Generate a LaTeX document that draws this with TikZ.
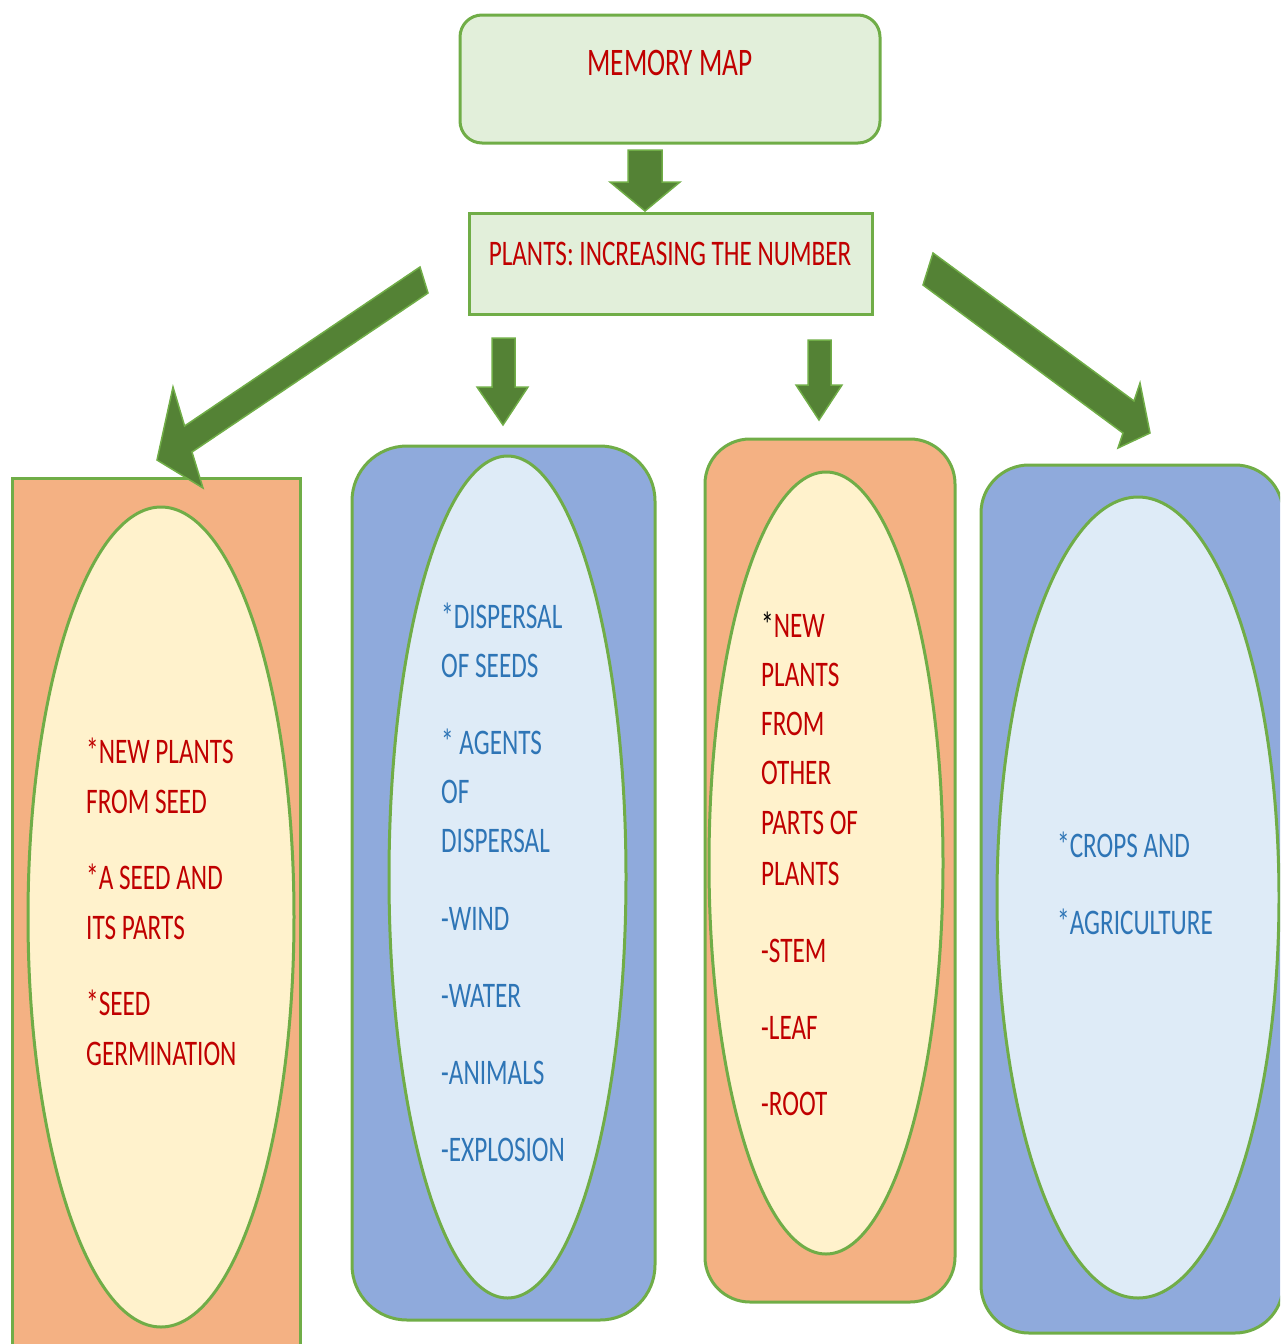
\documentclass[tikz,border=0pt]{standalone}
\usepackage{fontspec}
\setmainfont[FakeStretch=0.7]{Carlito}
\usetikzlibrary{shapes.geometric}
\definecolor{bordergreen}{HTML}{70AD47}
\definecolor{arrowgreen}{HTML}{548235}
\definecolor{lightgreen}{HTML}{E2EFDA}
\definecolor{orangefill}{HTML}{F4B183}
\definecolor{creamfill}{HTML}{FFF2CC}
\definecolor{bluefill}{HTML}{8FAADC}
\definecolor{paleblue}{HTML}{DEEBF7}
\definecolor{redtext}{HTML}{C00000}
\definecolor{bluetext}{HTML}{2E75B6}
\begin{document}
\begin{tikzpicture}[x=1pt,y=-1pt,
  box/.style={draw=bordergreen, line width=3pt, fill=lightgreen, inner sep=0pt},
  panel/.style={draw=bordergreen, line width=3pt, inner sep=0pt},
  oval/.style={ellipse, draw=bordergreen, line width=3pt, inner sep=0pt},
  blockarrow/.style={fill=arrowgreen, draw=bordergreen, line width=1.5pt, line join=miter},
  txt/.style={font=\fontsize{36}{40}\selectfont, inner sep=0pt, anchor=base west},
  redtxt/.style={txt, text=redtext},
  bluetxt/.style={txt, text=bluetext},
]
\useasboundingbox (0,0) rectangle (1280,1344);
\clip (0,0) rectangle (1280,1344);

% top boxes
\node[box, rounded corners=22pt, minimum width=420pt, minimum height=128pt] (mm) at (670,79) {};
\node[text=redtext, font=\fontsize{39}{42}\selectfont, inner sep=0pt, anchor=base] (mmt) at (670,75) {MEMORY MAP};
\node[box, minimum width=403pt, minimum height=101pt] (pl) at (670.5,263.5) {};
\node[text=redtext, font=\fontsize{36}{40}\selectfont, inner sep=0pt, anchor=base] (plt) at (670,265) {PLANTS: INCREASING THE NUMBER};

% panels
\node[panel, fill=orangefill, minimum width=288pt, minimum height=882pt] (p1) at (156,919) {};
\node[panel, fill=bluefill, rounded corners=55pt, minimum width=303pt, minimum height=874pt] (p2) at (503.5,883) {};
\node[panel, fill=orangefill, rounded corners=45pt, minimum width=250pt, minimum height=863pt] (p3) at (830,870.5) {};
\node[panel, fill=bluefill, rounded corners=48pt, minimum width=302pt, minimum height=868pt] (p4) at (1132,899) {};

% ellipses
\node[oval, fill=creamfill, minimum width=266pt, minimum height=820pt] (e1) at (161,917) {};
\node[oval, fill=paleblue, minimum width=237pt, minimum height=842pt] (e2) at (507.5,877) {};
\node[oval, fill=creamfill, minimum width=234pt, minimum height=782pt] (e3) at (826,863) {};
\node[oval, fill=paleblue, minimum width=282pt, minimum height=801pt] (e4) at (1138,897.5) {};

% block arrows
\draw[blockarrow] (628,150) -- (662,150) -- (662,182) -- (680,182) -- (645,211) -- (610,182) -- (628,182) -- cycle;
\draw[blockarrow] (492,338) -- (515,338) -- (515,387) -- (528,387) -- (503,425) -- (477,387) -- (492,387) -- cycle;
\draw[blockarrow] (808,340) -- (831,340) -- (831,385) -- (842,385) -- (819,420) -- (796,385) -- (808,385) -- cycle;
\draw[blockarrow] (420,267) -- (184.6,426) -- (173,387) -- (157,460) -- (203,488) -- (192,452) -- (428,293) -- cycle;
\draw[blockarrow] (933,253) -- (1134,401) -- (1140,383) -- (1150,433) -- (1118,448) -- (1123,433) -- (923,285) -- cycle;

% panel 1 text
\node[redtxt] (a1) at (86,763) {*NEW PLANTS};
\node[redtxt] (a2) at (86,813) {FROM SEED};
\node[redtxt] (a3) at (86,889) {*A SEED AND};
\node[redtxt] (a4) at (86,939) {ITS PARTS};
\node[redtxt] (a5) at (86,1015) {*SEED};
\node[redtxt] (a6) at (86,1065) {GERMINATION};

% panel 2 text
\node[bluetxt] (b1) at (441,628) {*DISPERSAL};
\node[bluetxt] (b2) at (441,677) {OF SEEDS};
\node[bluetxt] (b3) at (441,754) {* AGENTS};
\node[bluetxt] (b4) at (441,803) {OF};
\node[bluetxt] (b5) at (441,852) {DISPERSAL};
\node[bluetxt] (b6) at (441,930) {-WIND};
\node[bluetxt] (b7) at (441,1007) {-WATER};
\node[bluetxt] (b8) at (441,1084) {-ANIMALS};
\node[bluetxt] (b9) at (441,1161) {-EXPLOSION};

% panel 3 text
\node[redtxt] (c1) at (761,637) {{\color{black}*}NEW};
\node[redtxt] (c2) at (761,686) {PLANTS};
\node[redtxt] (c3) at (761,735) {FROM};
\node[redtxt] (c4) at (761,784) {OTHER};
\node[redtxt] (c5) at (761,834) {PARTS OF};
\node[redtxt] (c6) at (761,885) {PLANTS};
\node[redtxt] (c7) at (761,962) {-STEM};
\node[redtxt] (c8) at (761,1039) {-LEAF};
\node[redtxt] (c9) at (761,1115) {-ROOT};

% panel 4 text
\node[bluetxt] (d1) at (1057,857) {*CROPS AND};
\node[bluetxt] (d2) at (1057,934) {*AGRICULTURE};
\end{tikzpicture}
\end{document}
